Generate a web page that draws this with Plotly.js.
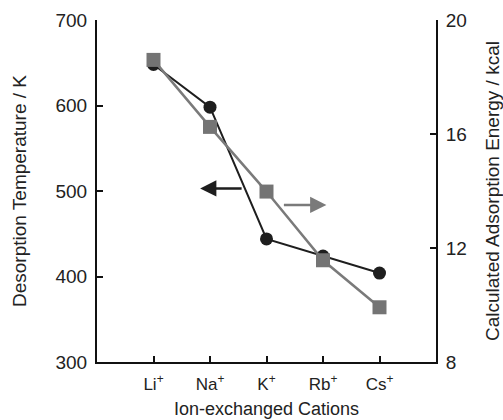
<!DOCTYPE html>
<html>
<head>
<meta charset="utf-8">
<script src="https://cdn.plot.ly/plotly-3.0.1.min.js"></script>
<style>html,body{margin:0;padding:0;background:#fff;}#chart{width:503px;height:420px;}</style>
</head>
<body>
<div id="chart"></div>
<script>
const cations = ["Li<sup>+</sup>", "Na<sup>+</sup>", "K<sup>+</sup>", "Rb<sup>+</sup>", "Cs<sup>+</sup>"];
const desorptionTemp = [648, 598, 444, 424, 404];
const adsorptionEnergy = [18.6, 16.25, 13.98, 11.57, 9.92];
const leftTicks = [300, 400, 500, 600, 700];
const rightTicks = [8, 12, 16, 20];

const font = "Liberation Sans, Arial, sans-serif";

const traces = [
  {
    x: cations, y: desorptionTemp, type: "scatter", mode: "lines+markers",
    line: {color: "#1e1e1e", width: 2},
    marker: {symbol: "circle", size: 13, color: "#1e1e1e"},
    yaxis: "y", hoverinfo: "none"
  },
  {
    x: cations, y: adsorptionEnergy, type: "scatter", mode: "lines+markers",
    line: {color: "#7a7a7a", width: 2.5},
    marker: {symbol: "square", size: 14, color: "#747474"},
    yaxis: "y2", hoverinfo: "none"
  }
];

const axisCommon = {
  showgrid: false, zeroline: false, showline: true, linecolor: "#111", linewidth: 2,
  ticks: "inside", ticklen: 6, tickwidth: 2, tickcolor: "#111",
  tickfont: {family: font, size: 19, color: "#222"}
};

const layout = {
  width: 503, height: 420,
  margin: {l: 97, r: 67, t: 20, b: 58},
  paper_bgcolor: "#fff", plot_bgcolor: "#fff",
  showlegend: false,
  font: {family: font, color: "#222"},
  xaxis: Object.assign({}, axisCommon, {
    type: "category", range: [-1, 5], mirror: false,
    tickfont: {family: font, size: 17, color: "#222"}, ticklabelstandoff: 6,
    title: {text: "Ion-exchanged Cations", font: {family: font, size: 18, color: "#222"}, standoff: 9}
  }),
  yaxis: Object.assign({}, axisCommon, {
    range: [300, 700], tickvals: leftTicks, ticktext: leftTicks.map(String),
    ticklabelstandoff: 4,
    title: {text: "Desorption Temperature / K", font: {family: font, size: 19, color: "#222"}, standoff: 24}
  }),
  yaxis2: Object.assign({}, axisCommon, {
    overlaying: "y", side: "right", range: [8, 20], tickvals: rightTicks, ticktext: rightTicks.map(String),
    ticklabelstandoff: 4,
    title: {text: "Calculated Adsorption Energy / kcal", font: {family: font, size: 19, color: "#222"}, standoff: 23}
  }),
  annotations: [
    {x: 0.825, y: 503, xref: "x", yref: "y", ax: 43, ay: 0, axref: "pixel", ayref: "pixel",
     showarrow: true, arrowhead: 2, arrowsize: 1.3, arrowwidth: 2.5, arrowcolor: "#1e1e1e", text: ""},
    {x: 3.06, y: 483.7, xref: "x", yref: "y", ax: -44, ay: 0, axref: "pixel", ayref: "pixel",
     showarrow: true, arrowhead: 2, arrowsize: 1.3, arrowwidth: 2.5, arrowcolor: "#7a7a7a", text: ""}
  ]
};

Plotly.newPlot("chart", traces, layout, {staticPlot: true, displayModeBar: false});
</script>
</body>
</html>
